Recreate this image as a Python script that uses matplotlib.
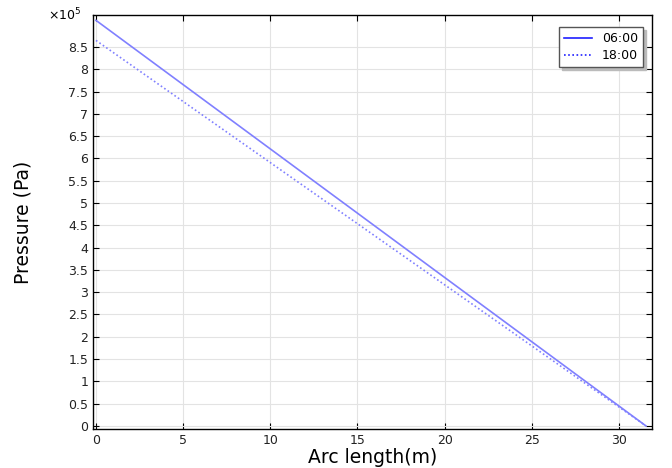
import matplotlib
matplotlib.use("Agg")
import matplotlib.pyplot as plt
import numpy as np

series_labels = ["06:00", "18:00"]
arc_length = [0.0, 31.55]
p_0600 = [9.1e5, 0.0]
p_1800 = [8.65e5, 0.0]

fig = plt.figure(figsize=(6.72, 4.68), dpi=100)
ax = fig.add_axes([93/672, 1-429/468, (652-93)/672, (429-15)/468])

ax.plot(arc_length, np.array(p_0600)/1e5, color="#8080ff", lw=1.2, label=series_labels[0])
ax.plot(arc_length, np.array(p_1800)/1e5, color="#8080ff", lw=1.2, ls=(0, (1, 1.5)), label=series_labels[1])

ax.set_xlim(-0.17, 31.9)
ax.set_ylim(-0.07, 9.22)
ax.set_xticks(np.arange(0, 31, 5))
yt = np.arange(0, 8.51, 0.5)
ax.set_yticks(yt)
ax.set_yticklabels([("%g" % v) for v in yt])
ax.grid(True, color="#e3e3e3", lw=0.8)
ax.set_axisbelow(True)
ax.tick_params(direction="in", top=True, right=True, labelsize=9, length=4, colors="black", labelcolor="#222222")
for s in ax.spines.values():
    s.set_linewidth(1.0)
ax.text(-0.02, 1.0, r"$\times10^5$", transform=ax.transAxes, ha="right", va="center", fontsize=9)

ax.set_xlabel("Arc length(m)", fontsize=13.5, labelpad=1)
ax.set_ylabel("Pressure (Pa)", fontsize=13.5)
ax.yaxis.set_label_coords(-0.108, 0.5)

leg_lines = [plt.Line2D([], [], color="#1f1fff", lw=1.2),
             plt.Line2D([], [], color="#1f1fff", lw=1.2, ls=(0, (1, 1.5)))]
leg = ax.legend(leg_lines, series_labels, loc="upper right", bbox_to_anchor=(0.995, 0.985),
                fancybox=False, shadow={"color": "#bbbbbb", "alpha": 1}, framealpha=1,
                edgecolor="#555555", fontsize=9,
                handlelength=2.2, borderpad=0.4, labelspacing=0.3)
leg.get_frame().set_linewidth(1.0)

fig.savefig("out.png", dpi=100)
